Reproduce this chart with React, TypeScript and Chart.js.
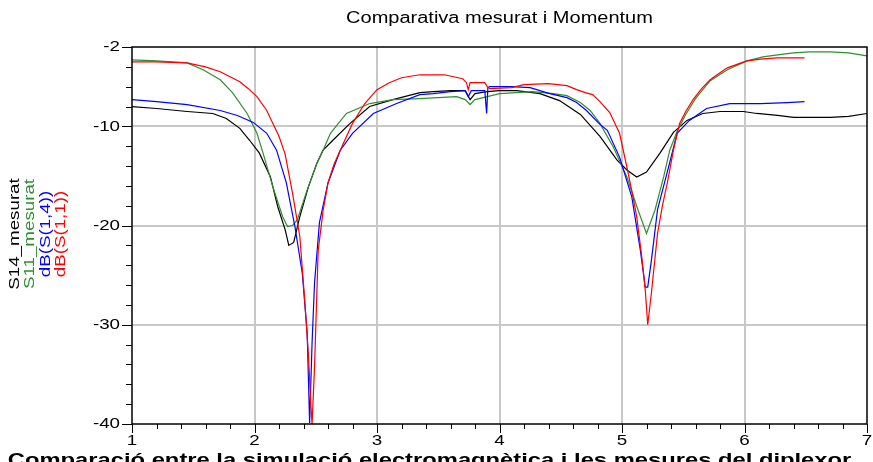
import React, { useEffect, useRef } from "react";
import { Chart, registerables } from "chart.js";

Chart.register(...registerables);

// Frequency axis (GHz) and magnitude axis (dB)
const xMajorTicks = [1, 2, 3, 4, 5, 6, 7];
const yMajorTicks = [-2, -10, -20, -30, -40];
const xMinorStep = 0.2;
const yMinorStep = 2;

const titleText = "Comparativa mesurat i Momentum";
const captionText = "1 Comparació entre la simulació electromagnètica i les mesures del diplexor";

// dB(S(1,1)) – simulated
const s11SimFreq = [1.0, 1.2, 1.45, 1.6, 1.72, 1.8, 1.88, 1.95, 2.02, 2.1, 2.15, 2.2, 2.25, 2.31, 2.37, 2.41, 2.44, 2.46, 2.47, 2.49, 2.52, 2.56, 2.6, 2.65, 2.7, 2.8, 2.9, 3.0, 3.1, 3.2, 3.35, 3.55, 3.7, 3.73, 3.745, 3.76, 3.88, 3.9, 3.92, 4.1, 4.2, 4.4, 4.55, 4.63, 4.7, 4.76, 4.82, 4.9, 4.98, 5.04, 5.08, 5.12, 5.16, 5.19, 5.21, 5.24, 5.29, 5.33, 5.37, 5.42, 5.47, 5.52, 5.58, 5.65, 5.72, 5.8, 5.86, 5.95, 6.02, 6.15, 6.27, 6.4, 6.49];
const s11SimDb = [-3.5, -3.5, -3.6, -4.0, -4.5, -5.0, -5.5, -6.2, -7.0, -8.4, -9.7, -11.0, -12.8, -16.7, -21.1, -27.5, -33.0, -38.0, -40.0, -34.3, -22.5, -18.5, -15.7, -13.8, -12.4, -9.7, -7.7, -6.3, -5.6, -5.1, -4.8, -4.8, -5.2, -5.6, -6.3, -5.6, -5.6, -6.0, -6.2, -6.1, -5.8, -5.7, -5.9, -6.3, -6.6, -6.8, -7.5, -8.6, -10.7, -14.1, -16.5, -19.1, -23.0, -26.5, -30.0, -26.8, -20.8, -18.0, -15.7, -12.4, -9.7, -8.5, -7.3, -6.2, -5.3, -4.6, -4.1, -3.7, -3.4, -3.2, -3.1, -3.1, -3.1];

// dB(S(1,4)) – simulated
const s14SimFreq = [1.0, 1.2, 1.45, 1.72, 1.86, 1.99, 2.1, 2.18, 2.26, 2.33, 2.39, 2.43, 2.45, 2.47, 2.49, 2.53, 2.6, 2.7, 2.8, 2.97, 3.16, 3.35, 3.46, 3.6, 3.72, 3.745, 3.77, 3.88, 3.895, 3.905, 3.92, 4.1, 4.25, 4.41, 4.55, 4.63, 4.71, 4.82, 4.88, 4.98, 5.08, 5.15, 5.19, 5.21, 5.24, 5.29, 5.38, 5.45, 5.55, 5.69, 5.88, 6.13, 6.35, 6.49];
const s14SimDb = [-7.3, -7.5, -7.8, -8.4, -8.9, -9.6, -10.7, -12.4, -15.7, -20.1, -24.8, -30.8, -39.9, -31.8, -25.8, -19.7, -15.7, -12.4, -10.7, -8.7, -7.7, -6.8, -6.7, -6.5, -6.4, -7.0, -6.4, -6.4, -8.7, -6.1, -6.0, -6.0, -6.1, -6.7, -7.1, -7.6, -8.4, -9.8, -10.4, -13.1, -17.1, -22.5, -26.2, -26.2, -23.5, -18.4, -14.1, -10.7, -9.4, -8.2, -7.7, -7.7, -7.6, -7.5];

// S11_mesurat – measured
const s11MeasFreq = [1.0, 1.2, 1.45, 1.58, 1.72, 1.82, 1.94, 2.02, 2.07, 2.15, 2.23, 2.27, 2.31, 2.35, 2.43, 2.51, 2.56, 2.62, 2.75, 2.94, 3.13, 3.35, 3.5, 3.65, 3.72, 3.76, 3.8, 3.9, 4.0, 4.27, 4.44, 4.55, 4.66, 4.74, 4.82, 4.93, 5.04, 5.13, 5.2, 5.27, 5.34, 5.39, 5.45, 5.52, 5.6, 5.72, 5.86, 6.02, 6.15, 6.27, 6.4, 6.53, 6.7, 6.85, 7.0];
const s11MeasDb = [-3.3, -3.4, -3.6, -4.3, -5.3, -6.6, -8.7, -10.7, -12.7, -16.1, -19.1, -20.1, -20.0, -19.4, -16.4, -13.7, -12.4, -10.7, -8.7, -7.7, -7.3, -7.2, -7.1, -7.0, -7.3, -7.8, -7.3, -7.0, -6.7, -6.5, -6.7, -6.9, -7.6, -8.4, -9.7, -12.1, -15.1, -18.4, -20.8, -18.4, -15.1, -12.4, -10.5, -8.8, -7.2, -5.4, -4.3, -3.4, -3.0, -2.8, -2.6, -2.5, -2.5, -2.6, -2.9];

// S14_mesurat – measured
const s14MeasFreq = [1.0, 1.2, 1.45, 1.66, 1.77, 1.88, 1.96, 2.04, 2.13, 2.19, 2.25, 2.28, 2.32, 2.37, 2.44, 2.51, 2.56, 2.64, 2.78, 2.94, 3.13, 3.35, 3.46, 3.6, 3.72, 3.76, 3.8, 3.9, 4.0, 4.14, 4.33, 4.49, 4.66, 4.82, 4.96, 5.04, 5.12, 5.2, 5.31, 5.42, 5.53, 5.66, 5.8, 5.99, 6.1, 6.27, 6.4, 6.53, 6.7, 6.85, 7.0];
const s14MeasDb = [-8.0, -8.2, -8.5, -8.7, -9.2, -10.2, -11.4, -12.7, -15.1, -18.1, -20.4, -22.0, -21.7, -19.1, -16.1, -13.7, -12.4, -11.4, -9.7, -8.0, -7.3, -6.6, -6.5, -6.4, -6.4, -7.3, -6.7, -6.5, -6.4, -6.4, -6.7, -7.4, -8.8, -11.0, -13.4, -14.4, -15.1, -14.6, -12.7, -10.6, -9.4, -8.7, -8.5, -8.5, -8.7, -8.9, -9.1, -9.1, -9.1, -9.0, -8.7];

const seriesNames = ["S14_mesurat", "S11_mesurat", "dB(S(1,4))", "dB(S(1,1))"];
const seriesColors = ["#000000", "#2f8f2f", "#0000ff", "#ff0000"];

const FONT = "'Liberation Sans', Arial, sans-serif";
const STRETCH = 1.25;

const toPoints = (xs: number[], ys: number[]) => xs.map((x, i) => ({ x, y: ys[i] }));

function drawText(
  ctx: CanvasRenderingContext2D,
  text: string,
  x: number,
  y: number,
  align: CanvasTextAlign,
  baseline: CanvasTextBaseline,
  rotate = 0
) {
  ctx.save();
  ctx.translate(x, y);
  if (rotate) ctx.rotate(rotate);
  ctx.scale(STRETCH, 1);
  ctx.textAlign = align;
  ctx.textBaseline = baseline;
  ctx.fillText(text, 0, 0);
  ctx.restore();
}

const decorPlugin = {
  id: "decor",
  afterDraw(chart: any) {
    const { ctx, chartArea: a, scales } = chart;
    const xs = scales.x;
    const ys = scales.y;
    ctx.save();

    // plot frame
    ctx.strokeStyle = "#000";
    ctx.lineWidth = 1.5;
    ctx.strokeRect(a.left, a.top, a.right - a.left, a.bottom - a.top);

    // x ticks (outside, downward)
    ctx.lineWidth = 1;
    const xMin = xMajorTicks[0];
    const xMax = xMajorTicks[xMajorTicks.length - 1];
    const nX = Math.round((xMax - xMin) / xMinorStep);
    for (let i = 0; i <= nX; i++) {
      const v = xMin + i * xMinorStep;
      const px = Math.round(xs.getPixelForValue(v)) + 0.5;
      const major = i % 5 === 0;
      ctx.beginPath();
      ctx.moveTo(px, a.bottom);
      ctx.lineTo(px, a.bottom + (major ? 9 : 5));
      ctx.stroke();
    }

    // y ticks (outside, leftward)
    for (let v = -40; v <= -2; v += yMinorStep) {
      const py = Math.round(ys.getPixelForValue(v)) + 0.5;
      const major = yMajorTicks.includes(v);
      ctx.beginPath();
      ctx.moveTo(a.left, py);
      ctx.lineTo(a.left - (major ? 10 : 6), py);
      ctx.stroke();
    }

    // tick labels
    ctx.fillStyle = "#000";
    ctx.font = `15px ${FONT}`;
    xMajorTicks.forEach((v) => {
      drawText(ctx, String(v), xs.getPixelForValue(v), 441, "center", "middle");
    });
    yMajorTicks.forEach((v) => {
      drawText(ctx, String(v), 120, ys.getPixelForValue(v), "right", "middle");
    });

    // title
    ctx.font = `16px ${FONT}`;
    drawText(ctx, titleText, (a.left + a.right) / 2, 23, "center", "alphabetic");

    // rotated legend on the left
    ctx.font = `15px ${FONT}`;
    const legendX = [19, 34, 50, 65];
    seriesNames.forEach((name, i) => {
      ctx.fillStyle = seriesColors[i];
      drawText(ctx, name, legendX[i], 234, "center", "alphabetic", -Math.PI / 2);
    });

    // caption below the plot
    ctx.fillStyle = "#000";
    ctx.font = `bold 19px ${FONT}`;
    drawText(ctx, captionText, -12, 466, "left", "alphabetic");

    ctx.restore();
  },
};

export default function App() {
  const canvasRef = useRef<HTMLCanvasElement>(null);

  useEffect(() => {
    if (!canvasRef.current) return;
    const line = (label: string, color: string, xs: number[], ys: number[]) => ({
      label,
      data: toPoints(xs, ys),
      borderColor: color,
      backgroundColor: color,
      borderWidth: 1.2,
      pointRadius: 0,
      tension: 0,
      fill: false,
    });

    const chart = new Chart(canvasRef.current, {
      type: "line",
      data: {
        datasets: [
          line(seriesNames[3], seriesColors[3], s11SimFreq, s11SimDb),
          line(seriesNames[2], seriesColors[2], s14SimFreq, s14SimDb),
          line(seriesNames[1], seriesColors[1], s11MeasFreq, s11MeasDb),
          line(seriesNames[0], seriesColors[0], s14MeasFreq, s14MeasDb),
        ],
      },
      options: {
        responsive: false,
        animation: false,
        devicePixelRatio: 1,
        layout: { padding: { top: 47, right: 6, left: 0, bottom: 0 } },
        plugins: {
          legend: { display: false },
          title: { display: false },
          tooltip: { enabled: false },
        },
        scales: {
          x: {
            type: "linear",
            min: 1,
            max: 7,
            afterBuildTicks: (s: any) => {
              s.ticks = xMajorTicks.map((value) => ({ value }));
            },
            afterFit: (s: any) => {
              s.height = 38;
            },
            ticks: { display: false },
            border: { display: false },
            grid: {
              drawTicks: false,
              lineWidth: 2,
              color: (c: any) =>
                c.tick && c.tick.value > 1 && c.tick.value < 7 ? "#c8c8c8" : "rgba(0,0,0,0)",
            },
          },
          y: {
            type: "linear",
            min: -40,
            max: -2,
            afterBuildTicks: (s: any) => {
              s.ticks = yMajorTicks.map((value) => ({ value }));
            },
            afterFit: (s: any) => {
              s.width = 132;
            },
            ticks: { display: false },
            border: { display: false },
            grid: {
              drawTicks: false,
              lineWidth: 2,
              color: (c: any) =>
                c.tick && c.tick.value > -40 && c.tick.value < -2 ? "#c8c8c8" : "rgba(0,0,0,0)",
            },
          },
        },
      },
      plugins: [decorPlugin],
    } as any);

    return () => chart.destroy();
  }, []);

  return (
    <div style={{ position: "fixed", left: 0, top: 0, width: 873, height: 462, background: "#fff", overflow: "hidden" }}>
      <canvas ref={canvasRef} width={873} height={462} style={{ display: "block", width: 873, height: 462 }} />
    </div>
  );
}
